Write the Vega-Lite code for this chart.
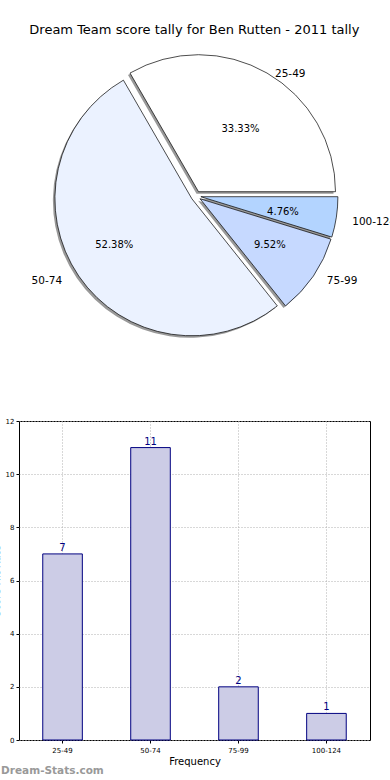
{
  "$schema": "https://vega.github.io/schema/vega-lite/v6.json",
  "padding": {"left": -10, "top": 24, "right": 0, "bottom": 0},
  "config": {
    "font": "DejaVu Sans",
    "view": {"stroke": "black", "strokeWidth": 1},
    "axis": {"labelColor": "black", "tickColor": "black", "titleColor": "black", "gridColor": "#b0b0b0", "gridDash": [1, 2], "domain": false, "titleFontWeight": "normal"}
  },
  "title": {"text": "Dream Team score tally for Ben Rutten - 2011 tally", "fontSize": 13, "fontWeight": "normal", "color": "black", "anchor": "middle", "frame": "bounds", "offset": 9, "dx": 1},
  "data": {"values": [
    {"range": "25-49", "count": 7, "order": 1, "pct": "33.33%"},
    {"range": "50-74", "count": 11, "order": 2, "pct": "52.38%"},
    {"range": "75-99", "count": 2, "order": 3, "pct": "9.52%"},
    {"range": "100-124", "count": 1, "order": 4, "pct": "4.76%"}
  ]},
  "bounds": "flush",
  "spacing": 75,
  "vconcat": [
    {
      "width": 354,
      "height": 300,
      "view": {"stroke": null},
      "encoding": {
        "theta": {"field": "count", "type": "quantitative", "stack": true, "scale": {"range": [1.5708, -4.7124]}},
        "order": {"field": "order", "type": "quantitative"}
      },
      "layer": [
        {"mark": {"type": "arc", "radius": 137, "fill": "#999999", "xOffset": 0.5, "yOffset": -2.3},
         "encoding": {"detail": {"field": "range"}, "opacity": {"condition": {"test": "datum.range === '25-49'", "value": 1}, "value": 0}}},
        {"mark": {"type": "arc", "radius": 137, "fill": "#999999", "xOffset": -6.1, "yOffset": 4.8},
         "encoding": {"detail": {"field": "range"}, "opacity": {"condition": {"test": "datum.range === '50-74'", "value": 1}, "value": 0}}},
        {"mark": {"type": "arc", "radius": 137, "fill": "#999999", "xOffset": 2.1, "yOffset": 4.8},
         "encoding": {"detail": {"field": "range"}, "opacity": {"condition": {"test": "datum.range === '75-99'", "value": 1}, "value": 0}}},
        {"mark": {"type": "arc", "radius": 137, "fill": "#999999", "xOffset": 2.9, "yOffset": 2.7},
         "encoding": {"detail": {"field": "range"}, "opacity": {"condition": {"test": "datum.range === '100-124'", "value": 1}, "value": 0}}},
        {"mark": {"type": "arc", "radius": 137, "stroke": "black", "strokeWidth": 0.7, "xOffset": 2.5, "yOffset": -4.3},
         "encoding": {"color": {"field": "range", "type": "nominal", "scale": {"domain": ["25-49", "50-74", "75-99", "100-124"], "range": ["#ffffff", "#ebf2ff", "#c6d9ff", "#b3d4ff"]}, "legend": null},
                      "opacity": {"condition": {"test": "datum.range === '25-49'", "value": 1}, "value": 0}}},
        {"mark": {"type": "arc", "radius": 137, "stroke": "black", "strokeWidth": 0.7, "xOffset": -4.1, "yOffset": 2.8},
         "encoding": {"color": {"field": "range", "type": "nominal", "scale": {"domain": ["25-49", "50-74", "75-99", "100-124"], "range": ["#ffffff", "#ebf2ff", "#c6d9ff", "#b3d4ff"]}, "legend": null},
                      "opacity": {"condition": {"test": "datum.range === '50-74'", "value": 1}, "value": 0}}},
        {"mark": {"type": "arc", "radius": 137, "stroke": "black", "strokeWidth": 0.7, "xOffset": 4.1, "yOffset": 2.8},
         "encoding": {"color": {"field": "range", "type": "nominal", "scale": {"domain": ["25-49", "50-74", "75-99", "100-124"], "range": ["#ffffff", "#ebf2ff", "#c6d9ff", "#b3d4ff"]}, "legend": null},
                      "opacity": {"condition": {"test": "datum.range === '75-99'", "value": 1}, "value": 0}}},
        {"mark": {"type": "arc", "radius": 137, "stroke": "black", "strokeWidth": 0.7, "xOffset": 4.9, "yOffset": 0.7},
         "encoding": {"color": {"field": "range", "type": "nominal", "scale": {"domain": ["25-49", "50-74", "75-99", "100-124"], "range": ["#ffffff", "#ebf2ff", "#c6d9ff", "#b3d4ff"]}, "legend": null},
                      "opacity": {"condition": {"test": "datum.range === '100-124'", "value": 1}, "value": 0}}},
        {"mark": {"type": "text", "radius": 82, "fontSize": 10, "color": "black", "xOffset": 3.5, "yOffset": 3.7},
         "encoding": {"detail": {"field": "range"}, "text": {"field": "pct"}, "opacity": {"condition": {"test": "datum.range === '25-49'", "value": 1}, "value": 0}}},
        {"mark": {"type": "text", "radius": 82, "fontSize": 10, "color": "black", "xOffset": -14, "yOffset": 2.8},
         "encoding": {"detail": {"field": "range"}, "text": {"field": "pct"}, "opacity": {"condition": {"test": "datum.range === '50-74'", "value": 1}, "value": 0}}},
        {"mark": {"type": "text", "radius": 82, "fontSize": 10, "color": "black", "xOffset": 6.1, "yOffset": 2.8},
         "encoding": {"detail": {"field": "range"}, "text": {"field": "pct"}, "opacity": {"condition": {"test": "datum.range === '75-99'", "value": 1}, "value": 0}}},
        {"mark": {"type": "text", "radius": 82, "fontSize": 10, "color": "black", "xOffset": 5.9, "yOffset": 3.7},
         "encoding": {"detail": {"field": "range"}, "text": {"field": "pct"}, "opacity": {"condition": {"test": "datum.range === '100-124'", "value": 1}, "value": 0}}},
        {"mark": {"type": "text", "radius": 151, "fontSize": 10.5, "color": "black", "align": "left", "xOffset": 3.5, "yOffset": 9},
         "encoding": {"detail": {"field": "range"}, "text": {"field": "range"}, "opacity": {"condition": {"test": "datum.range === '25-49'", "value": 1}, "value": 0}}},
        {"mark": {"type": "text", "radius": 151, "fontSize": 10.5, "color": "black", "align": "right", "xOffset": -9.1, "yOffset": 0},
         "encoding": {"detail": {"field": "range"}, "text": {"field": "range"}, "opacity": {"condition": {"test": "datum.range === '50-74'", "value": 1}, "value": 0}}},
        {"mark": {"type": "text", "radius": 151, "fontSize": 10.5, "color": "black", "align": "left", "xOffset": 6.1, "yOffset": 0},
         "encoding": {"detail": {"field": "range"}, "text": {"field": "range"}, "opacity": {"condition": {"test": "datum.range === '75-99'", "value": 1}, "value": 0}}},
        {"mark": {"type": "text", "radius": 151, "fontSize": 10.5, "color": "black", "align": "left", "xOffset": 6.9, "yOffset": 3},
         "encoding": {"detail": {"field": "range"}, "text": {"field": "range"}, "opacity": {"condition": {"test": "datum.range === '100-124'", "value": 1}, "value": 0}}}
      ]
    },
    {
      "width": 351,
      "height": 319,
      "title": {"text": "Dream-Stats.com", "orient": "bottom", "anchor": "start", "frame": "bounds", "fontSize": 10.5, "fontWeight": "bold", "color": "#999999", "offset": 0, "dx": 10},
      "encoding": {
        "x": {"field": "range", "type": "nominal", "sort": ["25-49", "50-74", "75-99", "100-124"],
              "scale": {"paddingInner": 0.55, "paddingOuter": 0.27},
              "axis": {"title": "Frequency", "titleFontSize": 10, "labelFontSize": 7, "labelAngle": 0, "labelPadding": 3, "tickSize": 3, "grid": true, "bandPosition": 0.5, "titlePadding": 3}},
        "y": {"field": "count", "type": "quantitative", "scale": {"domain": [0, 12]},
              "axis": {"title": "Score Hit Rate", "titleFontSize": 10, "labelFontSize": 7, "values": [0, 2, 4, 6, 8, 10, 12], "tickSize": 3, "labelPadding": 2, "grid": true, "titlePadding": 4}}
      },
      "layer": [
        {"mark": {"type": "bar", "fill": "#ccccE6", "stroke": "#000080", "strokeWidth": 1}},
        {"mark": {"type": "text", "color": "#000080", "fontSize": 10, "baseline": "bottom", "dy": -1},
         "encoding": {"text": {"field": "count", "type": "quantitative"}}}
      ]
    }
  ]
}
